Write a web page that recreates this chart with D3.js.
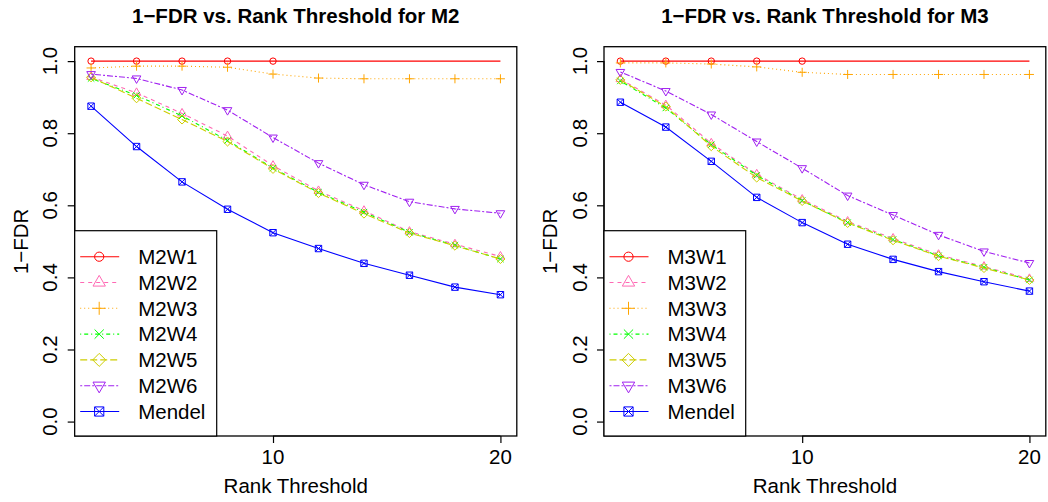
<!DOCTYPE html>
<html>
<head>
<meta charset="utf-8">
<script src="https://cdn.jsdelivr.net/npm/d3@7"></script>
<style>
  html, body { margin: 0; padding: 0; background: #fff; }
  svg { display: block; }
  text { font-family: "Liberation Sans", Arial, Helvetica, sans-serif; }
</style>
</head>
<body>
<div id="chart"></div>
<script>
// ---------------- data ----------------
const rankThresholds = [2, 4, 6, 8, 10, 12, 14, 16, 18, 20];
const xTickValues = [10, 20];
const yTickValues = [0, 0.2, 0.4, 0.6, 0.8, 1.0];
const yTickLabels = ["0.0", "0.2", "0.4", "0.6", "0.8", "1.0"];
const panelTitles = ["1\u2212FDR vs. Rank Threshold for M2", "1\u2212FDR vs. Rank Threshold for M3"];
const xAxisLabel = "Rank Threshold";
const yAxisLabel = "1\u2212FDR";
const seriesNamesM2 = ["M2W1", "M2W2", "M2W3", "M2W4", "M2W5", "M2W6", "Mendel"];
const seriesNamesM3 = ["M3W1", "M3W2", "M3W3", "M3W4", "M3W5", "M3W6", "Mendel"];
// number of leading points of the W1 series that carry a marker
const w1MarkedPoints = 5;

// M2 panel
const m2w1 = [1, 1, 1, 1, 1, 1, 1, 1, 1, 1];
const m2w2 = [0.956, 0.912, 0.855, 0.792, 0.710, 0.640, 0.585, 0.527, 0.492, 0.458];
const m2w3 = [0.981, 0.986, 0.986, 0.983, 0.964, 0.953, 0.951, 0.951, 0.951, 0.951];
const m2w4 = [0.952, 0.905, 0.848, 0.780, 0.703, 0.636, 0.581, 0.525, 0.489, 0.451];
const m2w5 = [0.955, 0.897, 0.838, 0.777, 0.701, 0.634, 0.577, 0.523, 0.488, 0.451];
const m2w6 = [0.964, 0.952, 0.920, 0.864, 0.788, 0.717, 0.657, 0.610, 0.590, 0.578];
const m2mendel = [0.875, 0.763, 0.665, 0.589, 0.524, 0.480, 0.439, 0.406, 0.373, 0.352];

// M3 panel
const m3w1 = [1, 1, 1, 1, 1, 1, 1, 1, 1, 1];
const m3w2 = [0.950, 0.878, 0.772, 0.686, 0.616, 0.555, 0.508, 0.463, 0.430, 0.396];
const m3w3 = [0.995, 0.995, 0.992, 0.984, 0.969, 0.963, 0.963, 0.963, 0.963, 0.963];
const m3w4 = [0.945, 0.870, 0.768, 0.683, 0.613, 0.552, 0.505, 0.460, 0.428, 0.393];
const m3w5 = [0.948, 0.874, 0.764, 0.677, 0.612, 0.551, 0.503, 0.459, 0.426, 0.393];
const m3w6 = [0.970, 0.917, 0.852, 0.777, 0.703, 0.627, 0.573, 0.518, 0.472, 0.440];
const m3mendel = [0.886, 0.817, 0.722, 0.622, 0.552, 0.492, 0.450, 0.416, 0.388, 0.362];

// ---------------- styles ----------------
const seriesColors = ["#FF0000", "#FF69B4", "#FFA500", "#00FF00", "#CDCD00", "#A020F0", "#0000FF"];
const seriesDash = [null, "4,4", "1,3", "1,3,4,3", "7,3", "2,2,6,2", null];
const seriesPch = [1, 2, 3, 4, 5, 6, 7];

const W = 1048, H = 502;
const FS = 20.5;

const svg = d3.select("#chart").append("svg")
  .attr("width", W).attr("height", H)
  .attr("viewBox", `0 0 ${W} ${H}`);
svg.append("rect").attr("width", W).attr("height", H).attr("fill", "#fff");

function markerPath(pch, R0) {
  const p = d3.path();
  if (pch === 1) {
    p.moveTo(R0, 0); p.arc(0, 0, R0, 0, 2 * Math.PI);
  } else if (pch === 2 || pch === 6) {
    const s = pch === 2 ? 1 : -1;
    const xc = 1.347 * R0, r = 1.555 * R0, yc = 0.778 * R0;
    p.moveTo(0, -s * r); p.lineTo(xc, s * yc); p.lineTo(-xc, s * yc); p.closePath();
  } else if (pch === 3) {
    const a = Math.SQRT2 * R0;
    p.moveTo(-a, 0); p.lineTo(a, 0); p.moveTo(0, -a); p.lineTo(0, a);
  } else if (pch === 4) {
    p.moveTo(-R0, -R0); p.lineTo(R0, R0); p.moveTo(-R0, R0); p.lineTo(R0, -R0);
  } else if (pch === 5) {
    const a = Math.SQRT2 * R0;
    p.moveTo(0, -a); p.lineTo(a, 0); p.lineTo(0, a); p.lineTo(-a, 0); p.closePath();
  } else if (pch === 7) {
    p.rect(-R0, -R0, 2 * R0, 2 * R0);
    p.moveTo(-R0, -R0); p.lineTo(R0, R0); p.moveTo(-R0, R0); p.lineTo(R0, -R0);
  }
  return p.toString();
}

function drawPanel(cfg) {
  const { left, right, top, bottom, title, names, series, legendRight } = cfg;
  const g = svg.append("g");
  const x = d3.scaleLinear().domain([1.28, 20.72]).range([left, right]);
  const y = d3.scaleLinear().domain([-0.04, 1.04]).range([bottom, top]);

  // series lines + markers
  series.forEach((vals, i) => {
    const pts = rankThresholds.map((t, k) => [t, vals[k]]);
    const line = d3.line().x(d => x(d[0])).y(d => y(d[1]));
    g.append("path")
      .attr("d", line(pts))
      .attr("fill", "none")
      .attr("stroke", seriesColors[i])
      .attr("stroke-width", 1.1)
      .attr("stroke-dasharray", seriesDash[i]);
    const mpts = i === 0 ? pts.slice(0, w1MarkedPoints) : pts;
    g.selectAll(null).data(mpts).enter().append("path")
      .attr("transform", d => `translate(${x(d[0])},${y(d[1])})`)
      .attr("d", markerPath(seriesPch[i], 3.2))
      .attr("fill", "none")
      .attr("stroke", seriesColors[i])
      .attr("stroke-width", 1);
  });

  // plot box
  g.append("rect")
    .attr("x", left).attr("y", top)
    .attr("width", right - left).attr("height", bottom - top)
    .attr("fill", "none").attr("stroke", "#000").attr("stroke-width", 1.3);

  // y axis
  const yAxis = d3.axisLeft(y).tickValues(yTickValues).tickSize(7).tickFormat(() => "");
  const ya = g.append("g").attr("transform", `translate(${left},0)`).call(yAxis);
  ya.select(".domain").attr("d", `M0,${y(0)}V${y(1)}`).attr("stroke-width", 1.2);
  ya.selectAll(".tick line").attr("stroke-width", 1.2);
  yTickValues.forEach((v, k) => {
    g.append("text")
      .attr("transform", `translate(${left - 17.4},${y(v)}) rotate(-90)`)
      .attr("text-anchor", "middle")
      .attr("font-size", FS)
      .text(yTickLabels[k]);
  });

  // x axis
  const xAxis = d3.axisBottom(x).tickValues(xTickValues).tickSize(7).tickFormat(() => "");
  const xa = g.append("g").attr("transform", `translate(0,${bottom})`).call(xAxis);
  xa.select(".domain").attr("d", `M${x(10)},0H${x(20)}`).attr("stroke-width", 1.2);
  xa.selectAll(".tick line").attr("stroke-width", 1.2);
  xTickValues.forEach(v => {
    g.append("text")
      .attr("x", x(v)).attr("y", 464)
      .attr("text-anchor", "middle")
      .attr("font-size", FS)
      .text(String(v));
  });

  // titles / labels
  const cx = (left + right) / 2;
  g.append("text").attr("x", cx).attr("y", 23.3)
    .attr("text-anchor", "middle").attr("font-size", FS).attr("font-weight", "bold")
    .text(title);
  g.append("text").attr("x", cx).attr("y", 493)
    .attr("text-anchor", "middle").attr("font-size", FS)
    .text(xAxisLabel);
  g.append("text")
    .attr("transform", `translate(${left - 46.6},${(top + bottom) / 2}) rotate(-90)`)
    .attr("text-anchor", "middle").attr("font-size", FS)
    .text(yAxisLabel);

  // legend
  const lTop = 230.7;
  const lg = g.append("g");
  lg.append("rect")
    .attr("x", left).attr("y", lTop)
    .attr("width", legendRight - left).attr("height", bottom - lTop)
    .attr("fill", "#fff").attr("stroke", "#000").attr("stroke-width", 1.2);
  names.forEach((nm, i) => {
    const cy = 256.7 + i * 25.8;
    lg.append("line")
      .attr("x1", left + 5.5).attr("x2", left + 44.5)
      .attr("y1", cy).attr("y2", cy)
      .attr("stroke", seriesColors[i]).attr("stroke-width", 1.1)
      .attr("stroke-dasharray", seriesDash[i]);
    lg.append("path")
      .attr("transform", `translate(${left + 24.5},${cy})`)
      .attr("d", markerPath(seriesPch[i], 4.6))
      .attr("fill", "none").attr("stroke", seriesColors[i]).attr("stroke-width", 1);
    lg.append("text")
      .attr("x", left + 63.5).attr("y", cy + 7.3)
      .attr("font-size", FS)
      .text(nm);
  });
}

drawPanel({
  left: 74.7, right: 516.8, top: 46.7, bottom: 436,
  title: panelTitles[0], names: seriesNamesM2,
  series: [m2w1, m2w2, m2w3, m2w4, m2w5, m2w6, m2mendel],
  legendRight: 216.7
});
drawPanel({
  left: 604, right: 1045.8, top: 46.7, bottom: 436,
  title: panelTitles[1], names: seriesNamesM3,
  series: [m3w1, m3w2, m3w3, m3w4, m3w5, m3w6, m3mendel],
  legendRight: 745.7
});
</script>
</body>
</html>
